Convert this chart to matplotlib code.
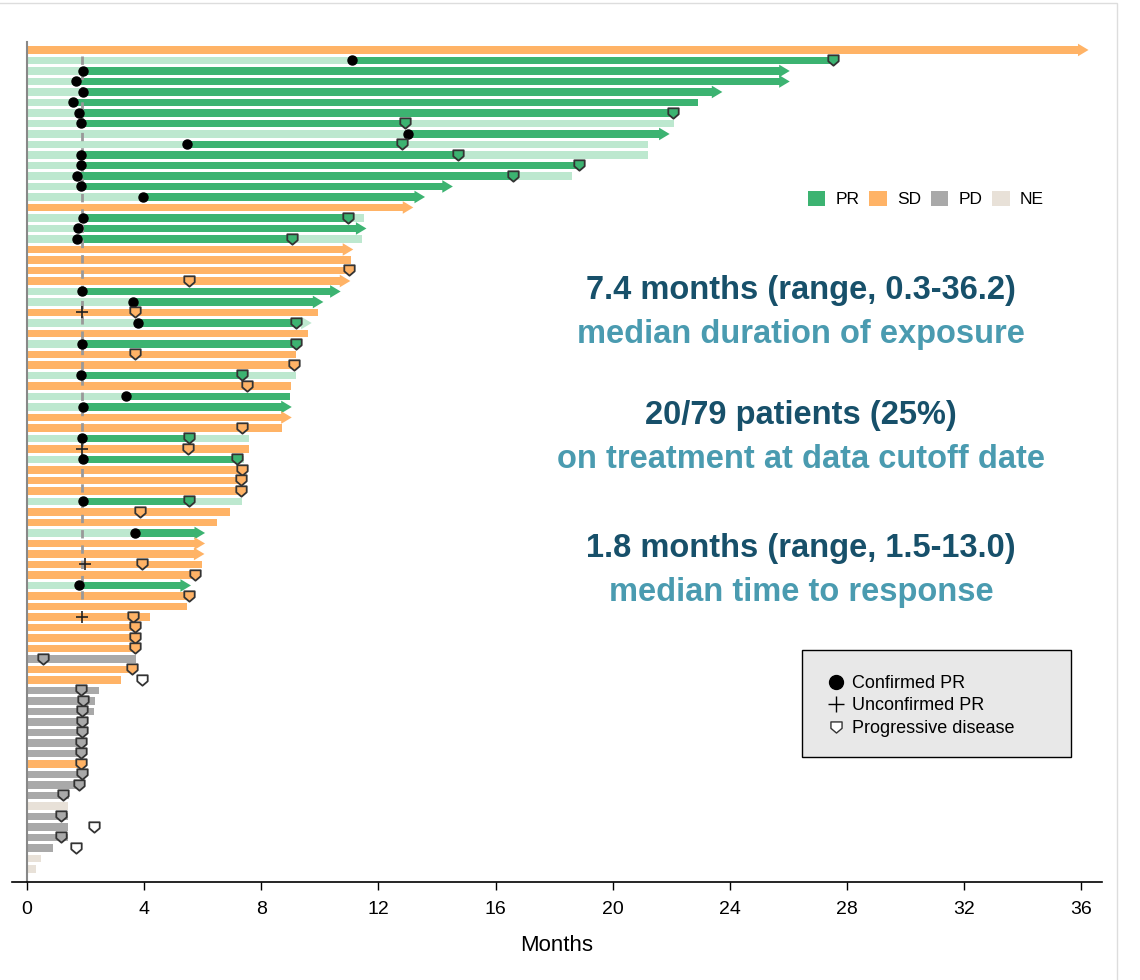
import matplotlib.pyplot as plt
import numpy as np
from matplotlib.patches import Patch, Polygon, Rectangle
from matplotlib.lines import Line2D
from matplotlib.path import Path

plt.rcParams['font.family'] = ['Liberation Sans', 'DejaVu Sans']
NARROW = ['Liberation Sans Narrow', 'Liberation Sans', 'DejaVu Sans']

nan = np.nan

# one entry per patient, top to bottom
best_response = [
    'SD', 'PR', 'PR', 'PR', 'PR', 'PR', 'PR', 'PR', 'PR', 'PR',
    'PR', 'PR', 'PR', 'PR', 'PR', 'SD', 'PR', 'PR', 'PR', 'SD',
    'SD', 'SD', 'SD', 'PR', 'PR', 'SD', 'PR', 'SD', 'PR', 'SD',
    'SD', 'PR', 'SD', 'PR', 'PR', 'SD', 'SD', 'PR', 'SD', 'PR',
    'SD', 'SD', 'SD', 'PR', 'SD', 'SD', 'PR', 'SD', 'SD', 'SD',
    'SD', 'PR', 'SD', 'SD', 'SD', 'SD', 'SD', 'SD', 'PD', 'SD',
    'SD', 'PD', 'PD', 'PD', 'PD', 'PD', 'PD', 'PD', 'SD', 'PD',
    'PD', 'PD', 'NE', 'PD', 'PD', 'PD', 'PD', 'NE', 'NE',
]
duration = [
    35.9, 27.5, 25.7, 25.7, 23.4, 22.9, 22.1, 22.1, 21.6, 21.2,
    21.2, 18.9, 18.6, 14.2, 13.25, 12.85, 11.5, 11.25, 11.45, 10.8,
    11.05, 11.05, 10.7, 10.37, 9.78, 9.93, 9.38, 9.6, 9.25, 9.2,
    9.2, 9.19, 9.03, 8.98, 8.7, 8.7, 8.72, 7.59, 7.59, 7.4,
    7.42, 7.4, 7.4, 7.35, 6.92, 6.5, 5.74, 5.74, 5.72, 5.97,
    5.8, 5.26, 5.57, 5.46, 4.21, 3.75, 3.75, 3.75, 3.71, 3.69,
    3.21, 2.45, 2.32, 2.3, 1.92, 1.92, 1.87, 1.87, 1.81, 1.9,
    1.8, 1.43, 1.41, 1.41, 1.41, 1.41, 0.88, 0.48, 0.3,
]
ongoing = [
    1, 0, 1, 1, 1, 0, 0, 0, 1, 0,
    0, 0, 0, 1, 1, 1, 0, 1, 0, 1,
    0, 0, 1, 1, 1, 0, 1, 0, 0, 0,
    0, 0, 0, 0, 1, 1, 0, 0, 0, 0,
    0, 0, 0, 0, 0, 0, 1, 1, 1, 0,
    0, 1, 0, 0, 0, 0, 0, 0, 0, 0,
    0, 0, 0, 0, 0, 0, 0, 0, 0, 0,
    0, 0, 0, 0, 0, 0, 0, 0, 0,
]
confirmed_pr = [
    nan, 11.1, 1.9, 1.67, 1.9, 1.57, 1.78, 1.84, 13.0, 5.45,
    1.84, 1.84, 1.72, 1.84, 3.97, nan, 1.91, 1.74, 1.72, nan,
    nan, nan, nan, 1.88, 3.62, nan, 3.78, nan, 1.88, nan,
    nan, 1.83, nan, 3.37, 1.9, nan, nan, 1.89, nan, 1.9,
    nan, nan, nan, 1.9, nan, nan, 3.7, nan, nan, nan,
    nan, 1.79, nan, nan, nan, nan, nan, nan, nan, nan,
    nan, nan, nan, nan, nan, nan, nan, nan, nan, nan,
    nan, nan, nan, nan, nan, nan, nan, nan, nan,
]
unconfirmed_pr = [nan] * 79
unconfirmed_pr[25] = 1.88
unconfirmed_pr[38] = 1.88
unconfirmed_pr[49] = 1.97
unconfirmed_pr[54] = 1.88
progression = [
    nan, 27.5, nan, nan, nan, nan, 22.05, 12.9, nan, 12.8,
    14.7, 18.85, 16.6, nan, nan, nan, 10.97, nan, 9.06, nan,
    nan, 11.0, 5.53, nan, nan, 3.7, 9.18, nan, 9.18, 3.68,
    9.1, 7.35, 7.5, nan, nan, nan, 7.34, 5.54, 5.49, 7.17,
    7.34, 7.31, 7.31, 5.52, 3.87, nan, nan, nan, nan, 3.92,
    5.75, nan, 5.52, nan, 3.62, 3.69, 3.68, 3.7, 0.55, 3.59,
    3.92, 1.83, 1.9, 1.88, 1.88, 1.88, 1.83, 1.83, 1.83, 1.88,
    1.78, 1.24, nan, 1.17, 2.3, 1.17, 1.67, nan, nan,
]
first_assessment = 1.88
last_dashed_row = 52

summary_values = ['7.4 months (range, 0.3-36.2)', '20/79 patients (25%)',
                  '1.8 months (range, 1.5-13.0)']
summary_labels = ['median duration of exposure', 'on treatment at data cutoff date',
                  'median time to response']

colors = {'PR': '#3cb371', 'SD': '#ffb366', 'PD': '#a9a9a9', 'NE': '#e8e1d8'}
pr_light = '#bde8cf'

shield = Path([(-1, 1), (1, 1), (1, -0.15), (0, -1), (-1, -0.15), (-1, 1)],
              [Path.MOVETO, Path.LINETO, Path.LINETO, Path.LINETO, Path.LINETO, Path.CLOSEPOLY])

fig = plt.figure(figsize=(11.4, 9.8), dpi=100)
ax = fig.add_axes([12 / 1140, 98 / 980, 1090 / 1140, 840 / 980])

bh = 0.68
n = len(duration)


def segments(i):
    # returns list of (start, stop, color) for patient i
    d = duration[i]
    if best_response[i] != 'PR':
        return [(0, d, colors[best_response[i]])]
    s = confirmed_pr[i]
    p = progression[i]
    stop = p if (not np.isnan(p) and p < d) else d
    segs = [(0, s, pr_light), (s, stop, colors['PR'])]
    if stop < d:
        segs.append((stop, d, pr_light))
    return segs


for i in range(n):
    segs = segments(i)
    for a, b, c in segs:
        ax.barh(i, b - a, left=a, height=bh, color=c, linewidth=0, zorder=2)
    if ongoing[i]:
        end = duration[i]
        tri = Polygon([(end - 0.02, i - 0.6), (end + 0.34, i), (end - 0.02, i + 0.6)],
                      closed=True, color=segs[-1][2], linewidth=0, zorder=2)
        ax.add_patch(tri)

ax.plot([first_assessment, first_assessment], [0.6, last_dashed_row + 0.4],
        color='#999999', lw=2, ls=(0, (3, 2.5)), zorder=3)

for i in range(n):
    if not np.isnan(confirmed_pr[i]):
        ax.plot(confirmed_pr[i], i, 'o', color='black', ms=6.5, zorder=5)
    if not np.isnan(unconfirmed_pr[i]):
        ax.plot(unconfirmed_pr[i], i, '+', color='#222222', ms=8, mew=1.2, zorder=5)
    p = progression[i]
    if not np.isnan(p):
        fc = 'white'
        for a, b, c in segments(i):
            if a <= p <= b + 0.05:
                fc = c
        if best_response[i] == 'PR' and p <= duration[i]:
            fc = colors['PR']
        ax.plot(p, i, marker=shield, ms=7.5, mfc=fc, mec='#333333', mew=1.3, ls='none', zorder=6)

ax.set_xlim(-0.51, 36.7)
ax.set_ylim(79.24, -0.76)
ax.set_yticks([])
ax.set_xticks(np.arange(0, 37, 4))
ax.tick_params(axis='x', length=6, width=1, labelsize=14, pad=8)
for lab in ax.get_xticklabels():
    lab.set_family(NARROW)
ax.set_xlabel('Months', fontsize=16, family=NARROW, labelpad=12)
ax.spines['top'].set_visible(False)
ax.spines['right'].set_visible(False)
ax.spines['left'].set_position(('data', 0))
ax.spines['left'].set_color('#888888')
ax.spines['left'].set_linewidth(1.5)
ax.spines['bottom'].set_linewidth(1.2)

# summary text
ys = [290, 415, 548]
for v, lab, y in zip(summary_values, summary_labels, ys):
    fig.text(801 / 1140, 1 - y / 980, v, ha='center', va='center', fontsize=23.5,
             fontweight='bold', color='#17506a', family=NARROW)
    fig.text(801 / 1140, 1 - (y + 44) / 980, lab, ha='center', va='center', fontsize=23.5,
             fontweight='bold', color='#4a9bb0', family=NARROW)

# response legend
handles = [Patch(facecolor=colors[k], edgecolor='none', label=k) for k in ['PR', 'SD', 'PD', 'NE']]
fig.legend(handles=handles, ncol=4, loc='center', bbox_to_anchor=(926 / 1140, 1 - 199 / 980),
           frameon=False, fontsize=12.5, handlelength=1.0, handleheight=1.0,
           columnspacing=0.55, handletextpad=0.6)

# marker legend
fig.patches.append(Rectangle((802 / 1140, 1 - 757 / 980), 269 / 1140, 107 / 980,
                             transform=fig.transFigure, facecolor='#e8e8e8',
                             edgecolor='black', lw=1, zorder=0))
mhandles = [
    Line2D([], [], marker='o', color='black', ls='none', ms=10, label='Confirmed PR'),
    Line2D([], [], marker='+', color='black', ls='none', ms=11, mew=1, label='Unconfirmed PR'),
    Line2D([], [], marker=shield, mfc='white', mec='#333333', mew=1, ls='none', ms=8,
           label='Progressive disease'),
]
fig.legend(handles=mhandles, loc='upper left', bbox_to_anchor=(818 / 1140, 1 - 666 / 980),
           frameon=False, fontsize=13, handlelength=1.0, handletextpad=0.4,
           labelspacing=0.3, borderpad=0)

fig.patches.append(Rectangle((-0.01, -0.01), 1.01 + 1117 / 1140 - 1, 1.01 - 3 / 980,
                             transform=fig.transFigure, fill=False,
                             edgecolor='#dddddd', lw=1))

fig.savefig('out.png', dpi=100)
